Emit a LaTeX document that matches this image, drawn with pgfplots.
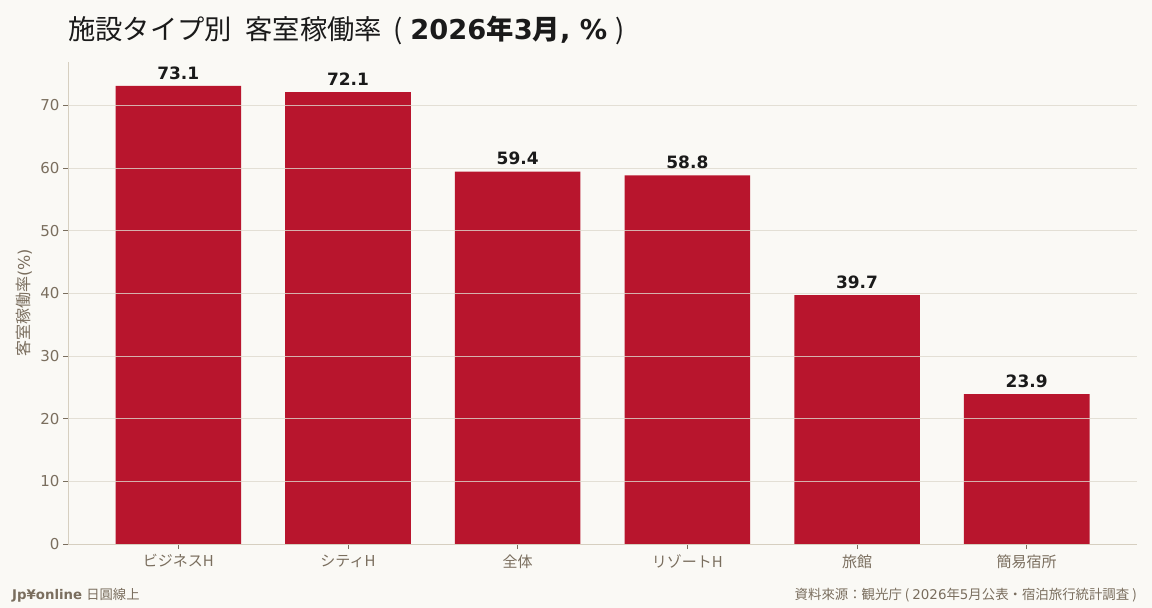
\documentclass[border=0pt]{standalone}
\usepackage{fontspec}
\setmainfont{DejaVu Sans}
\newfontfamily\cjk{Noto Sans CJK JP}
\usepackage{pgfplots}
\pgfplotsset{compat=1.18}
\definecolor{bgcol}{RGB}{250,249,245}
\definecolor{barcol}{RGB}{184,21,45}
\definecolor{txtgray}{RGB}{122,110,94}
\definecolor{titlecol}{RGB}{26,26,26}
\definecolor{spinecol}{RGB}{214,207,192}
\definecolor{gridcol}{RGB}{222,217,205}

\begin{document}
\begin{tikzpicture}
  \fill[bgcol] (0,0) rectangle (1152bp,608bp);
  \begin{axis}[
      at={(68bp,64bp)}, anchor=south west,
      scale only axis, width=1069bp, height=482bp,
      ymin=0, ymax=76.9,
      xmin=-0.65, xmax=5.65,
      ybar, bar width=0.74,
      axis lines=left,
      axis line style={-, draw=spinecol, line width=0.8bp},
      axis on top,
      ymajorgrids,
      major grid style={draw=gridcol, line width=0.8bp, opacity=0.8},
      tick align=outside,
      major tick length=5bp,
      tick style={draw=txtgray, line width=0.8bp},
      ytick={0,10,...,70},
      xtick={0,...,5},
      xticklabels={{ビジネスH},{シティH},{全体},{リゾートH},{旅館},{簡易宿所}},
      x tick label style={font=\cjk\fontsize{15bp}{18bp}\selectfont, text=txtgray, yshift=-2bp},
      y tick label style={font=\fontsize{15bp}{18bp}\selectfont, text=txtgray},
      /pgf/number format/assume math mode=true,
      ylabel={{\cjk 客室稼働率}(\%)},
      every axis y label/.style={at={(axis description cs:-0.041,0.5)}, rotate=90, anchor=center,
        font=\fontsize{16bp}{18bp}\selectfont, text=txtgray},
      nodes near coords,
      every node near coord/.append style={font=\fontsize{17bp}{20bp}\selectfont\bfseries, text=titlecol,
        yshift=3bp, /pgf/number format/.cd, fixed, fixed zerofill, precision=1},
    ]
    \addplot[fill=barcol, draw=none] coordinates {
        (0,73.1)
        (1,72.1)
        (2,59.4)
        (3,58.8)
        (4,39.7)
        (5,23.9)};
  \end{axis}
  \node[anchor=base west, text=titlecol, font=\fontsize{27.3bp}{32bp}\selectfont, inner sep=0pt]
    at (68bp,568bp) {{\cjk 施設タイプ別\hspace{0.5em}客室稼働率\hspace{0.4em}(\hspace{0.3em}}\textbf{2026{\cjk 年}3{\cjk 月}, \%}{\cjk\hspace{0.3em})}};
  \node[anchor=base west, text=txtgray, font=\fontsize{13.3bp}{16bp}\selectfont, inner sep=0pt]
    at (12bp,9bp) {\textbf{Jp¥online} {\cjk 日圓線上}};
  \node[anchor=base east, text=txtgray, font=\fontsize{13.4bp}{16bp}\selectfont, inner sep=0pt]
    at (1137bp,9bp) {{\cjk 資料來源：観光庁 ( }2026{\cjk 年}5{\cjk 月公表・宿泊旅行統計調査 )}};
  \pgfresetboundingbox
  \useasboundingbox (0,0) rectangle (1152bp,608bp);
\end{tikzpicture}
\end{document}
